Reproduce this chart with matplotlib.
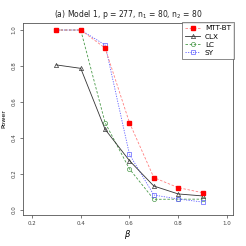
import numpy as np
import matplotlib
matplotlib.use("Agg")
import matplotlib.pyplot as plt

beta = [0.3, 0.4, 0.5, 0.6, 0.7, 0.8, 0.9]
mtt_bt = [1.0, 1.0, 0.90, 0.485, 0.18, 0.124, 0.096]
clx = [0.806, 0.787, 0.448, 0.274, 0.133, 0.089, 0.078]
lc = [1.0, 1.0, 0.485, 0.228, 0.059, 0.060, 0.060]
sy = [1.0, 1.0, 0.917, 0.309, 0.083, 0.061, 0.044]

xticks = [0.2, 0.4, 0.6, 0.8, 1.0]
yticks = [0.0, 0.2, 0.4, 0.6, 0.8, 1.0]

fig = plt.figure(figsize=(2.46, 2.46), dpi=100)
ax = fig.add_axes([23 / 246, 31 / 246, 210 / 246, 192 / 246])

ax.plot(beta, mtt_bt, color="#ff8080", linestyle=(0, (3, 2)), linewidth=0.6,
        marker="s", markersize=3, markerfacecolor="red", markeredgecolor="red",
        label="MTT-BT", zorder=5)
ax.plot(beta, clx, color="#333333", linestyle="-", linewidth=0.6,
        marker="^", markersize=3, markerfacecolor="none", markeredgecolor="#333333",
        markeredgewidth=0.5, label="CLX", zorder=4)
ax.plot(beta, lc, color="#4a9a4a", linestyle=(0, (3, 2)), linewidth=0.6,
        marker="o", markersize=3, markerfacecolor="none", markeredgecolor="#4a9a4a",
        markeredgewidth=0.5, label="LC", zorder=2)
ax.plot(beta, sy, color="#6060ff", linestyle=(0, (1.5, 1.5)), linewidth=0.6,
        marker="s", markersize=3, markerfacecolor="none", markeredgecolor="#6060ff",
        markeredgewidth=0.5, label="SY", zorder=3)

ax.set_xlim(0.163, 1.025)
ax.set_ylim(-0.028, 1.039)
ax.set_xticks(xticks)
ax.set_yticks(yticks)
ax.set_xticklabels(["0.2", "0.4", "0.6", "0.8", "1.0"])
ax.set_yticklabels(["0.0", "0.2", "0.4", "0.6", "0.8", "1.0"], rotation=90, va="center")
ax.tick_params(labelsize=4, length=2.5, width=0.5, pad=2, colors="#444444")
for s in ax.spines.values():
    s.set_linewidth(0.6)
    s.set_color("#555555")

ax.set_xlabel(r"$\beta$", fontsize=6, labelpad=1)
ax.set_ylabel("Power", fontsize=4.5, labelpad=4)
ax.set_title(r"(a) Model 1, p = 277, n$_1$ = 80, n$_2$ = 80", fontsize=5.5, pad=4,
             color="#222222")

leg = ax.legend(loc="upper right", bbox_to_anchor=(1.005, 1.005), fontsize=5.2,
                frameon=True, fancybox=False, borderpad=0.45, labelspacing=0.3,
                handlelength=2.0, handletextpad=0.7, borderaxespad=0)
leg.get_frame().set_edgecolor("#555555")
leg.get_frame().set_linewidth(0.6)

fig.savefig("out.png", dpi=100)
